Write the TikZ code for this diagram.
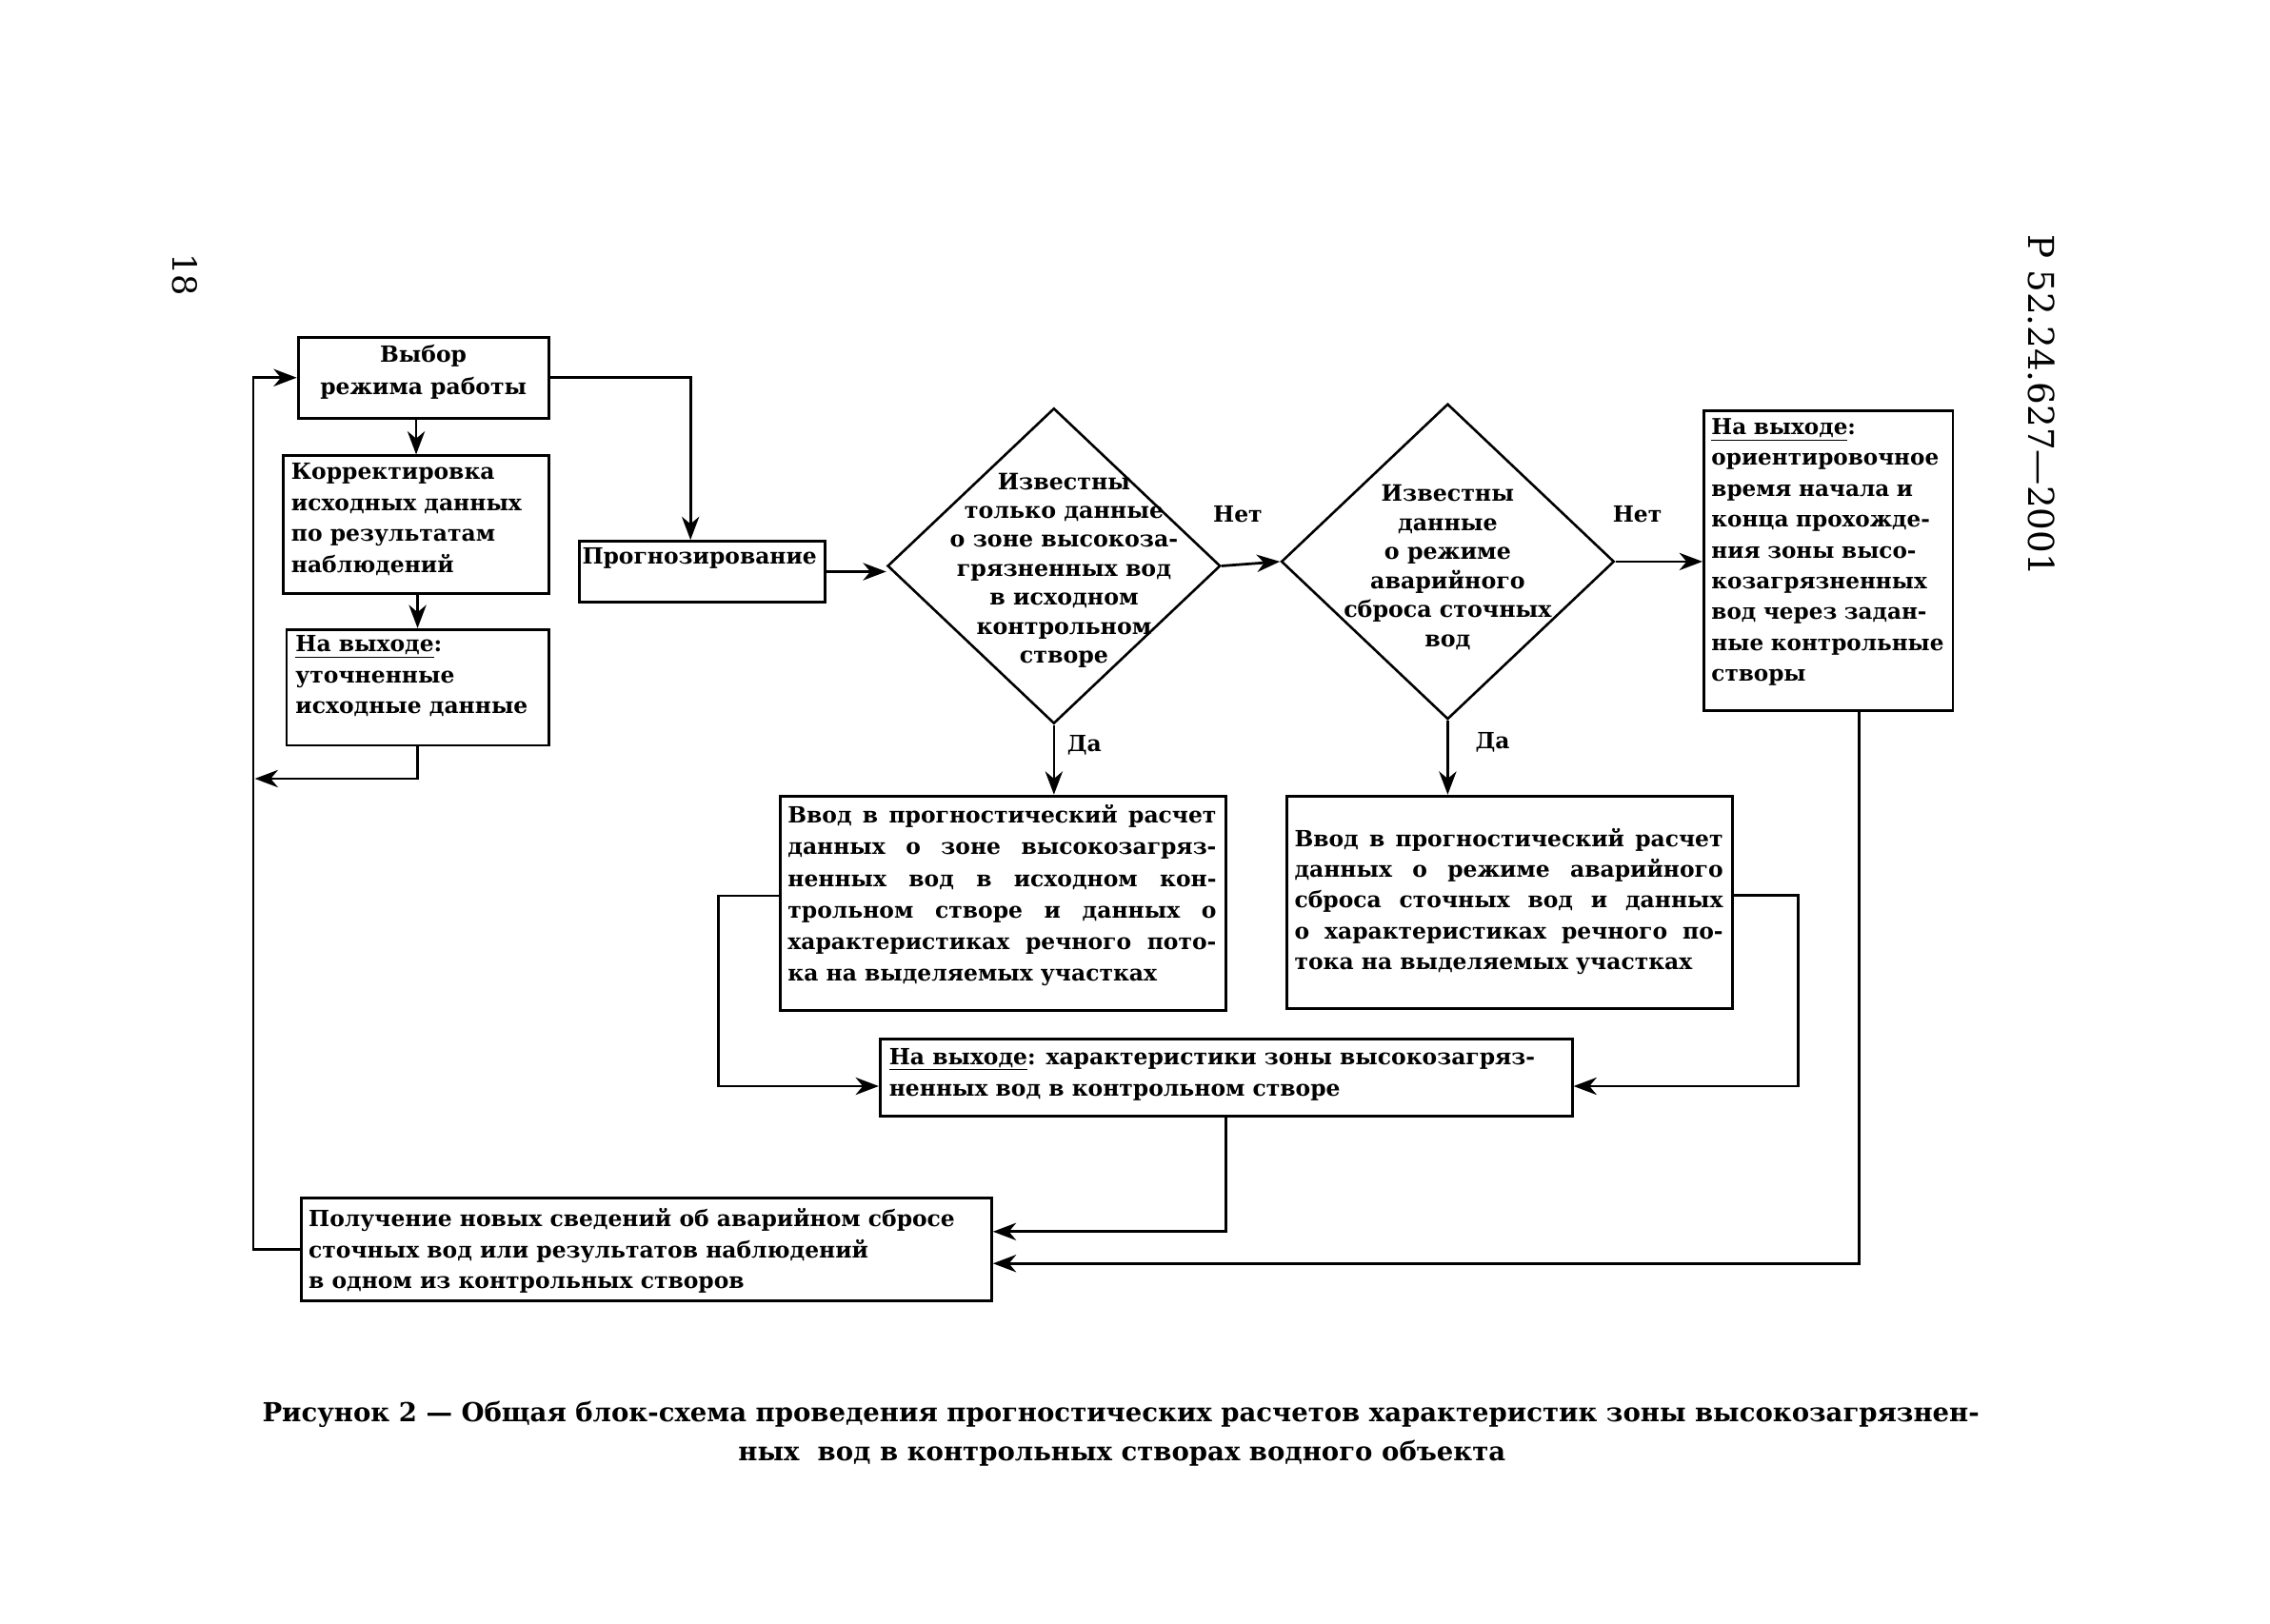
\documentclass[tikz,border=0pt]{standalone}
\usepackage{fontspec}
\setmainfont{DejaVu Serif}
\usetikzlibrary{shapes.geometric,arrows.meta,calc}
\newcommand\jl[2]{\makebox[#1][s]{#2}}
\begin{document}
\begin{tikzpicture}[x=1pt,y=-1pt,
  box/.style={draw, line width=1.9pt, inner sep=0pt, anchor=north west},
  txt/.style={inner sep=0pt, anchor=north west, align=left, font=\bfseries\fontsize{15.4}{21.3}\selectfont},
  ctxt/.style={inner sep=0pt, align=center, font=\bfseries\fontsize{15.6}{20}\selectfont},
  dia/.style={draw, diamond, line width=1.7pt, inner sep=0pt, minimum width=230pt, minimum height=218pt},
  arr/.style={line width=1.8pt, -{Stealth[length=16pt,width=12pt,inset=5pt]}},
  lbl/.style={inner sep=0pt, font=\bfseries\fontsize{15.4}{18}\selectfont},
]
\useasboundingbox (0,0) rectangle (1568,1121.5);

% boxes
\node[box, minimum width=173pt, minimum height=56pt] (vybor) at (205,232) {};
\node[ctxt, font=\bfseries\fontsize{15.4}{22}\selectfont] (vybort) at ($(vybor.center)+(0,-4)$) {Выбор\\режима работы};

\node[box, minimum width=183pt, minimum height=95pt] (korr) at (195,314) {};
\node[txt] (korrt) at ($(korr.north west)+(6,6)$) {Корректировка\\исходных данных\\по результатам\\наблюдений};

\node[box, minimum width=181pt, minimum height=80pt] (vyh1) at (197,434) {};
\node[txt] (vyh1t) at ($(vyh1.north west)+(7,5)$) {\underline{На выходе}:\\уточненные\\исходные данные};

\node[box, minimum width=170pt, minimum height=42pt] (prog) at (399,373) {};
\node[txt] (progt) at ($(prog.north west)+(3,5)$) {Прогнозирование};

\node[dia] (d1) at (728,391) {};
\node[ctxt] (d1t) at (735,394) {Известны\\только данные\\о зоне высокоза-\\грязненных вод\\в исходном\\контрольном\\створе};

\node[dia] (d2) at (1000,388) {};
\node[ctxt] (d2t) at (1000,392) {Известны\\данные\\о режиме\\аварийного\\сброса сточных\\вод};

\node[box, minimum width=172pt, minimum height=207pt] (rbox) at (1176,283) {};
\node[txt, text width=160pt, font=\bfseries\fontsize{15.2}{21.3}\selectfont] (rboxt) at ($(rbox.north west)+(6,6)$) {\underline{На выходе}:\\ориентировочное\\\jl{160pt}{время начала и}\\\jl{160pt}{конца прохожде-}\\\jl{160pt}{ния зоны высо-}\\козагрязненных\\\jl{160pt}{вод через задан-}\\\jl{160pt}{ные контрольные}\\створы};

\node[box, minimum width=308pt, minimum height=148pt] (vvod1) at (538,549) {};
\node[txt, font=\bfseries\fontsize{15.4}{21.8}\selectfont] (vvod1t) at ($(vvod1.north west)+(6,7)$) {\jl{296pt}{Ввод в прогностический расчет}\\\jl{296pt}{данных о зоне высокозагряз-}\\\jl{296pt}{ненных вод в исходном кон-}\\\jl{296pt}{трольном створе и данных о}\\\jl{296pt}{характеристиках речного пото-}\\ка на выделяемых участках};

\node[box, minimum width=308pt, minimum height=147pt] (vvod2) at (888,549) {};
\node[txt] (vvod2t) at ($(vvod2.north west)+(6,23)$) {\jl{296pt}{Ввод в прогностический расчет}\\\jl{296pt}{данных о режиме аварийного}\\\jl{296pt}{сброса сточных вод и данных}\\\jl{296pt}{о характеристиках речного по-}\\тока на выделяемых участках};

\node[box, minimum width=478pt, minimum height=53pt] (out) at (607,717) {};
\node[txt, font=\bfseries\fontsize{15.4}{22}\selectfont] (outt) at ($(out.north west)+(7,7)$) {\underline{На выходе}: характеристики зоны высокозагряз-\\ненных вод в контрольном створе};

\node[box, minimum width=477pt, minimum height=71pt] (poluch) at (207,827) {};
\node[txt] (poluch-t) at ($(poluch.north west)+(6,8)$) {Получение новых сведений об аварийном сбросе\\сточных вод или результатов наблюдений\\в одном из контрольных створов};

% labels
\node[lbl] (net1) at (855,355) {Нет};
\node[lbl] (net2) at (1131,355) {Нет};
\node[lbl] (da1) at (749,515) {Да};
\node[lbl] (da2) at (1031,513) {Да};

% connectors
\coordinate (fbend) at (176,538);
\draw[arr] (korr.north |- vybor.south) -- (korr.north);
\draw[arr] (vyh1.north |- korr.south) -- (vyh1.north);
\draw[arr] (vyh1.south) |- (fbend);
\draw[arr] (poluch.west) -- ++(-32,0) |- (vybor.west);
\draw[arr] (vybor.east) -| ([xshift=-8pt]prog.north);
\draw[arr] (prog.east) -- (prog.east -| d1.west);
\draw[arr] (d1.east) -- (d2.west);
\draw[arr] (d2.east) -- (d2.east -| rbox.west);
\draw[arr] (d1.south) -- (d1.south |- vvod1.north);
\draw[arr] (d2.south) -- (d2.south |- vvod2.north);
\draw[arr] ([yshift=5pt]vvod1.west) -- ++(-42,0) |- ([yshift=-6pt]out.west);
\draw[arr] ([yshift=5pt]vvod2.east) -- ++(44,0) |- ([yshift=-6pt]out.east);
\draw[arr] (out.south) |- ([yshift=12.5pt]poluch.east);
\draw[arr] ([xshift=21pt]rbox.south) |- ([yshift=-9.5pt]poluch.east);

% caption
\node[font=\bfseries\fontsize{18.1}{27}\selectfont, inner sep=0pt, anchor=west] (cap1) at (181,977) {\jl{1186pt}{Рисунок 2 — Общая блок-схема проведения прогностических расчетов характеристик зоны высокозагрязнен-}};
\node[font=\bfseries\fontsize{18.1}{27}\selectfont, inner sep=0pt] (cap2) at (775,1004) {ных\ \ вод в контрольных створах водного объекта};

% page marks
\node[rotate=-90, font=\fontsize{23}{27}\selectfont, inner sep=0pt] (pg) at (128,190) {18};
\node[rotate=-90, font=\fontsize{24.5}{29}\selectfont, inner sep=0pt] (code) at (1410,280) {Р 52.24.627—2001};
\end{tikzpicture}
\end{document}
